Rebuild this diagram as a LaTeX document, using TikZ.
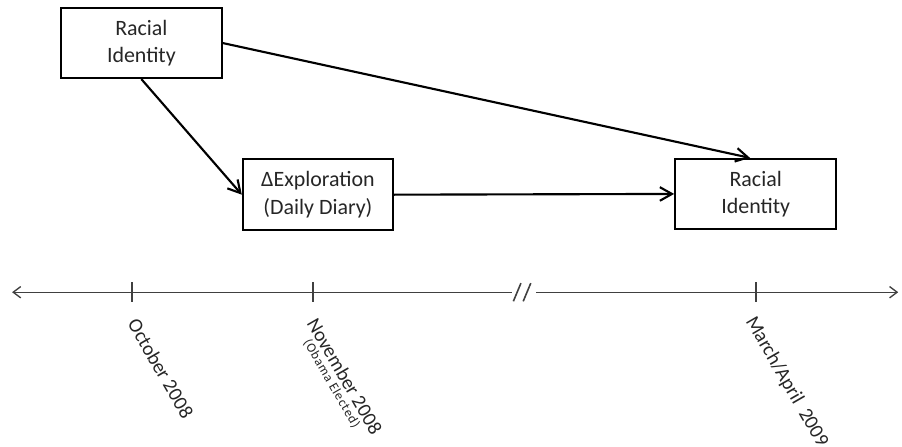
\documentclass[tikz,border=0pt]{standalone}
\usepackage{fontspec}
\setmainfont{Carlito}
\usetikzlibrary{arrows.meta}

\begin{document}
\begin{tikzpicture}[
  varbox/.style={draw, line width=1.6pt, align=center, inner sep=0pt,
    text=black!85, font=\fontsize{16.5}{20.5}\selectfont},
  link/.style={line width=1.6pt, -{Straight Barb[length=3.2mm,width=3.6mm]}},
  timeline/.style={line width=1pt, draw=black!75},
  datelabel/.style={rotate=-60, anchor=base west, inner sep=0pt,
    text=black!85, font=\fontsize{15}{18}\selectfont}
]
  \useasboundingbox (0,0) rectangle (23.86,11.80);

  % the three measures
  \node[varbox, minimum width=4.26cm, minimum height=1.85cm] (ri1) at (3.74,10.66) {Racial\\Identity};
  \node[varbox, minimum width=3.97cm, minimum height=1.88cm] (expl) at (8.41,6.65) {ΔExploration\\(Daily Diary)};
  \node[varbox, minimum width=4.26cm, minimum height=1.85cm] (ri2) at (19.99,6.67) {Racial\\Identity};

  % paths between them
  \draw[link] (ri1.south) -- (expl.west);
  \draw[link] (ri1.east) -- ([xshift=-0.15cm]ri2.north);
  \draw[link] (expl.east) -- (ri2.west);

  % time line with a break
  \coordinate (tl-left) at (0.32,4.07);
  \coordinate (tl-right) at (23.76,4.07);
  \coordinate (cut-l) at (13.54,4.07);
  \coordinate (cut-r) at (14.18,4.07);
  \draw[timeline, {Straight Barb[length=2mm,width=3mm]}-] (tl-left) -- (cut-l);
  \draw[timeline, -{Straight Barb[length=2mm,width=3mm]}] (cut-r) -- (tl-right);
  \draw[timeline, line width=1.2pt] (13.58,3.83) -- (13.78,4.31);
  \draw[timeline, line width=1.2pt] (13.84,3.83) -- (14.04,4.31);

  % ticks
  \foreach \x/\n in {3.49/oct, 8.28/nov, 20.0/mar} {
    \coordinate (tick-\n) at (\x,4.07);
    \draw[timeline] ([yshift=0.27cm]tick-\n) -- ([yshift=-0.26cm]tick-\n);
  }

  % dates
  \node[datelabel] (oct-lbl) at (3.36,3.24) {October 2008};
  \node[datelabel] (nov-lbl) at (8.10,3.26) {November 2008};
  \node[datelabel, anchor=north, inner sep=1.5pt, font=\fontsize{10}{11}\selectfont\addfontfeature{LetterSpace=6}] (obama-lbl) at (nov-lbl.south) {(Obama Elected)};
  \node[datelabel] (mar-lbl) at (19.71,3.31) {March/April\ \ 2009};
\end{tikzpicture}
\end{document}
